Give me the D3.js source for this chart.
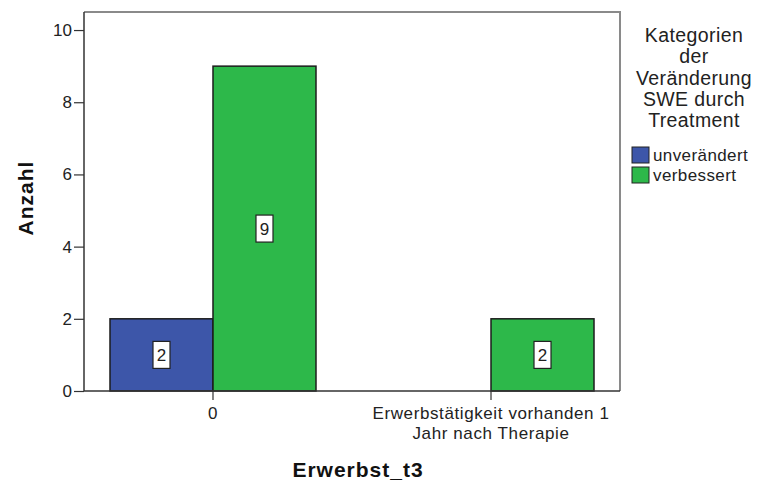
<!DOCTYPE html>
<html><head><meta charset="utf-8">
<script src="https://cdn.jsdelivr.net/npm/d3@7"></script>
<style>body{margin:0;background:#fff}svg{display:block;font-family:"Liberation Sans",Arial,sans-serif}</style>
</head><body><svg id="c" width="757" height="481"></svg>
<script>
const categories = ["0", "Erwerbstätigkeit vorhanden 1 Jahr nach Therapie"];
const categoryLines = [["0"], ["Erwerbstätigkeit vorhanden 1", "Jahr nach Therapie"]];
const seriesNames = ["unverändert", "verbessert"];
const unveraendert = [2, 0];
const verbessert = [9, 2];
const yTicks = [0, 2, 4, 6, 8, 10];
const colors = ["#3d56a9", "#2db84a"];

const svg = d3.select("#c");
const m = {l: 84, t: 12, r: 620, b: 391};
const x = d3.scaleBand().domain(categories).range([m.l, m.r]).paddingInner(0.259).paddingOuter(0.0935);
const x1 = d3.scaleBand().domain(seriesNames).range([0, x.bandwidth()]).padding(0);
const y = d3.scaleLinear().domain([0, 10.5]).range([m.b, m.t]);

// frame
svg.append("path").attr("d", `M${m.l},${m.t}H${m.r}V${m.b}`).attr("fill", "none").attr("stroke", "#8a8a8a").attr("stroke-width", 2);

const data = [];
categories.forEach((c, i) => {
  data.push({c, s: seriesNames[0], v: unveraendert[i], col: colors[0]});
  data.push({c, s: seriesNames[1], v: verbessert[i], col: colors[1]});
});
const bars = data.filter(d => d.v > 0);
svg.selectAll("rect.bar").data(bars).join("rect").attr("class", "bar")
  .attr("x", d => x(d.c) + x1(d.s)).attr("width", x1.bandwidth())
  .attr("y", d => y(d.v)).attr("height", d => y(0) - y(d.v))
  .attr("fill", d => d.col).attr("stroke", "#1c1c1c").attr("stroke-width", 1.5);

// value labels
const lab = svg.selectAll("g.lab").data(bars).join("g").attr("class", "lab")
  .attr("transform", d => `translate(${x(d.c) + x1(d.s) + x1.bandwidth() / 2},${(y(d.v) + y(0)) / 2})`);
lab.append("rect").attr("x", -8.5).attr("y", -13.5).attr("width", 17).attr("height", 27)
  .attr("fill", "#fff").attr("stroke", "#222").attr("stroke-width", 1.2);
lab.append("text").attr("text-anchor", "middle").attr("dy", "0.36em").attr("font-size", 17).attr("fill", "#222").text(d => d.v);

// y axis
const ya = svg.append("g").attr("transform", `translate(${m.l},0)`)
  .call(d3.axisLeft(y).tickValues(yTicks).tickSize(10).tickPadding(2));
ya.select(".domain").attr("d", `M0,${m.t}V${m.b}`).attr("stroke", "#333").attr("stroke-width", 1.5);
ya.selectAll(".tick line").attr("stroke", "#333").attr("stroke-width", 1.2);
ya.selectAll(".tick text").attr("font-size", 17).attr("fill", "#222").attr("font-family", "Liberation Sans, Arial, sans-serif");

// x axis
const xa = svg.append("g").attr("transform", `translate(0,${m.b})`)
  .call(d3.axisBottom(x).tickSize(9).tickFormat(""));
xa.select(".domain").attr("d", `M${m.l},0H${m.r}`).attr("stroke", "#333").attr("stroke-width", 1.5);
xa.selectAll(".tick line").attr("stroke", "#333").attr("stroke-width", 1.2);
xa.selectAll(".tick").each(function(d, i) {
  const t = d3.select(this).append("text").attr("text-anchor", "middle").attr("fill", "#222")
    .attr("font-size", 17).attr("letter-spacing", 0.6).attr("font-family", "Liberation Sans, Arial, sans-serif");
  categoryLines[i].forEach((ln, j) => t.append("tspan").attr("x", 0).attr("y", 28 + j * 20).text(ln));
});

// axis titles
svg.append("text").attr("transform", "translate(33,198) rotate(-90)").attr("text-anchor", "middle")
  .attr("font-size", 21).attr("letter-spacing", 1).attr("font-weight", "bold").attr("fill", "#111").text("Anzahl");
svg.append("text").attr("x", 358).attr("y", 477).attr("text-anchor", "middle")
  .attr("font-size", 21).attr("letter-spacing", 1).attr("font-weight", "bold").attr("fill", "#111").text("Erwerbst_t3");

// legend
const legTitle = ["Kategorien", "der", "Veränderung", "SWE durch", "Treatment"];
svg.append("g").selectAll("text").data(legTitle).join("text")
  .attr("x", 694).attr("y", (d, i) => 42 + i * 21.3).attr("text-anchor", "middle")
  .attr("font-size", 19.5).attr("letter-spacing", 0.4).attr("fill", "#222").text(d => d);
const leg = svg.append("g").selectAll("g").data(seriesNames).join("g")
  .attr("transform", (d, i) => `translate(632,${147 + i * 20})`);
leg.append("rect").attr("width", 17).attr("height", 16).attr("fill", (d, i) => colors[i]).attr("stroke", "#222").attr("stroke-width", 1);
leg.append("text").attr("x", 21).attr("y", 14).attr("font-size", 17).attr("letter-spacing", 0.4).attr("fill", "#222").text(d => d);
</script></body></html>
